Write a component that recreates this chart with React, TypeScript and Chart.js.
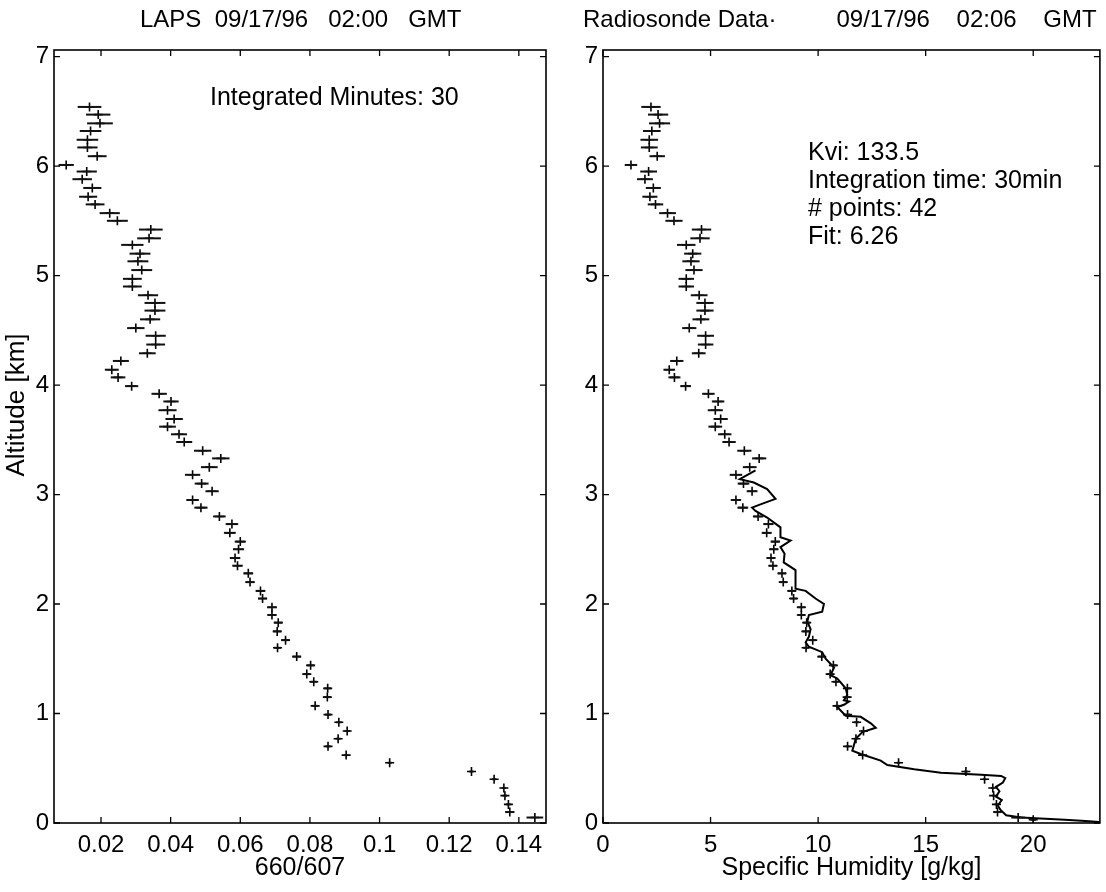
import React, { useEffect, useRef } from "react";
import { Chart, registerables } from "chart.js";

Chart.register(...registerables);

// ---------------- data ----------------
const altitudeKm = [
  6.54, 6.47, 6.39, 6.32, 6.24, 6.17, 6.09, 6.01, 5.95, 5.88,
  5.80, 5.72, 5.65, 5.57, 5.50, 5.42, 5.34, 5.28, 5.20, 5.13,
  5.05, 4.97, 4.90, 4.82, 4.75, 4.68, 4.60, 4.52, 4.45, 4.37,
  4.29, 4.22, 4.14, 4.07, 3.99, 3.92, 3.85, 3.77, 3.69, 3.62,
  3.55, 3.48, 3.40, 3.33, 3.25, 3.18, 3.10, 3.03, 2.95, 2.88,
  2.80, 2.73, 2.65, 2.57, 2.50, 2.42, 2.35, 2.28, 2.20, 2.12,
  2.05, 1.97, 1.90, 1.83, 1.75, 1.67, 1.60, 1.52, 1.44, 1.36,
  1.29, 1.23, 1.15, 1.07, 0.99, 0.92, 0.84, 0.77, 0.70, 0.62,
  0.55, 0.47, 0.40, 0.32, 0.25, 0.17, 0.10, 0.05, 0.03,
];

const lapsRatio = [
  0.0167, 0.0192, 0.0197, 0.0170, 0.0161, 0.0161, 0.0189, 0.0100, 0.0159, 0.0146,
  0.0175, 0.0163, 0.0183, 0.0225, 0.0247, 0.0343, 0.0338, 0.0290, 0.0312, 0.0306,
  0.0317, 0.0290, 0.0290, 0.0335, 0.0355, 0.0355, 0.0341, 0.0300, 0.0357, 0.0357,
  0.0333, 0.0257, 0.0231, 0.0249, 0.0288, 0.0367, 0.0401, 0.0391, 0.0410, 0.0391,
  0.0424, 0.0439, 0.0492, 0.0544, 0.0511, 0.0463, 0.0489, 0.0519, 0.0463, 0.0487,
  0.0540, 0.0576, 0.0570, 0.0600, 0.0595, 0.0585, 0.0592, 0.0623, 0.0628, 0.0658,
  0.0664, 0.0691, 0.0691, 0.0709, 0.0706, 0.0730, 0.0707, 0.0762, 0.0802, 0.0791,
  0.0811, 0.0851, 0.0850, 0.0815, 0.0852, 0.0883, 0.0907, 0.0881, 0.0852, 0.0904,
  0.1029, 0.1264, 0.1329, 0.1357, 0.1360, 0.1370, 0.1374, 0.1446, 0.1498,
];

const lapsErr = [
  0.0034, 0.0035, 0.0037, 0.0031, 0.0031, 0.0029, 0.0027, 0.0022, 0.0029, 0.0028,
  0.0026, 0.0026, 0.0027, 0.0029, 0.0030, 0.0034, 0.0034, 0.0032, 0.0030, 0.0030,
  0.0030, 0.0027, 0.0027, 0.0029, 0.0030, 0.0030, 0.0029, 0.0025, 0.0029, 0.0027,
  0.0024, 0.0023, 0.0020, 0.0021, 0.0019, 0.0022, 0.0022, 0.0026, 0.0025, 0.0024,
  0.0023, 0.0023, 0.0025, 0.0025, 0.0024, 0.0022, 0.0020, 0.0019, 0.0018, 0.0019,
  0.0018, 0.0018, 0.0017, 0.0016, 0.0016, 0.0015, 0.0015, 0.0014, 0.0013, 0.0014,
  0.0013, 0.0014, 0.0013, 0.0012, 0.0012, 0.0011, 0.0010, 0.0012, 0.0011, 0.0010,
  0.0010, 0.0010, 0.0010, 0.0008, 0.0008, 0.0008, 0.0008, 0.0007, 0.0007, 0.0006,
  0.0006, 0.0006, 0.0006, 0.0006, 0.0006, 0.0007, 0.0013, 0.0024, 0.0010,
];

const humidityGkg = [
  2.23, 2.56, 2.63, 2.27, 2.15, 2.15, 2.52, 1.30, 2.12, 1.95,
  2.34, 2.18, 2.44, 3.00, 3.30, 4.58, 4.51, 3.87, 4.17, 4.09,
  4.23, 3.87, 3.87, 4.47, 4.74, 4.74, 4.55, 4.01, 4.77, 4.77,
  4.45, 3.43, 3.08, 3.32, 3.84, 4.90, 5.35, 5.22, 5.47, 5.22,
  5.66, 5.86, 6.57, 7.26, 6.82, 6.18, 6.53, 6.93, 6.18, 6.50,
  7.21, 7.69, 7.61, 8.01, 7.94, 7.81, 7.90, 8.32, 8.38, 8.78,
  8.86, 9.22, 9.22, 9.47, 9.43, 9.75, 9.44, 10.17, 10.71, 10.56,
  10.83, 11.36, 11.35, 10.88, 11.37, 11.79, 12.11, 11.76, 11.37, 12.07,
  13.74, 16.87, 17.74, 18.12, 18.16, 18.29, 18.34, 19.30, 20.00,
];

const humidityErr = [
  0.45, 0.47, 0.49, 0.41, 0.41, 0.39, 0.36, 0.29, 0.39, 0.37,
  0.35, 0.35, 0.36, 0.39, 0.40, 0.45, 0.45, 0.43, 0.40, 0.40,
  0.40, 0.36, 0.36, 0.39, 0.40, 0.40, 0.39, 0.33, 0.39, 0.36,
  0.32, 0.31, 0.27, 0.28, 0.25, 0.29, 0.29, 0.35, 0.33, 0.32,
  0.31, 0.31, 0.33, 0.33, 0.32, 0.29, 0.27, 0.25, 0.24, 0.25,
  0.24, 0.24, 0.23, 0.21, 0.21, 0.20, 0.20, 0.19, 0.17, 0.19,
  0.17, 0.19, 0.17, 0.16, 0.16, 0.15, 0.13, 0.16, 0.15, 0.13,
  0.13, 0.13, 0.13, 0.11, 0.11, 0.11, 0.11, 0.09, 0.09, 0.08,
  0.08, 0.08, 0.08, 0.08, 0.08, 0.09, 0.17, 0.32, 0.13,
];

const sondeHumidity = [
  7.09, 6.36, 7.01, 7.63, 8.02, 7.32, 6.93, 7.09, 7.63, 8.25,
  8.25, 8.72, 8.25, 8.44, 8.40, 8.95, 8.95, 9.42, 9.88, 10.27,
  10.19, 9.57, 9.50, 9.65, 9.57, 9.42, 9.57, 10.19, 10.35, 10.74,
  10.58, 10.89, 11.28, 11.36, 11.20, 11.44, 11.20, 10.89, 11.28, 11.98,
  12.45, 12.68, 12.06, 11.75, 11.59, 11.98, 12.91, 13.22, 14.47, 15.71,
  17.58, 18.51, 18.70, 18.59, 18.27, 18.43, 18.27, 18.54, 18.35, 18.48,
  18.74, 19.44, 21.46, 22.24, 23.08,
];

const sondeAltitude = [
  3.22, 3.14, 3.11, 3.05, 2.96, 2.91, 2.88, 2.85, 2.79, 2.70,
  2.61, 2.58, 2.52, 2.46, 2.38, 2.31, 2.14, 2.12, 2.05, 2.00,
  1.93, 1.90, 1.84, 1.77, 1.70, 1.65, 1.61, 1.56, 1.50, 1.42,
  1.35, 1.32, 1.23, 1.17, 1.12, 1.11, 1.08, 1.06, 0.98, 0.97,
  0.91, 0.87, 0.83, 0.77, 0.66, 0.63, 0.57, 0.53, 0.49, 0.46,
  0.44, 0.43, 0.41, 0.37, 0.33, 0.29, 0.24, 0.21, 0.16, 0.12,
  0.07, 0.05, 0.03, 0.02, 0.01,
];

const altitudeTicks = [0, 1, 2, 3, 4, 5, 6, 7];
const ratioTicks = [0.02, 0.04, 0.06, 0.08, 0.1, 0.12, 0.14];
const humidityTicks = [0, 5, 10, 15, 20];

const leftTitle = "LAPS  09/17/96   02:00   GMT";
const rightTitle = "Radiosonde Data\u00B7         09/17/96    02:06    GMT";
const leftXLabel = "660/607";
const rightXLabel = "Specific Humidity [g/kg]";
const yLabel = "Altitude [km]";
const leftNotes = ["Integrated Minutes: 30"];
const rightNotes = ["Kvi: 133.5", "Integration time: 30min", "# points: 42", "Fit: 6.26"];

// ---------------- styling ----------------
const FONT_FAMILY = "'Liberation Sans', Arial, Helvetica, sans-serif";
const FS = 24;

const framePlugin = {
  id: "frame",
  afterDatasetsDraw(chart: any, _args: any, opts: any) {
    const { ctx, chartArea: a, scales } = chart;
    const xs = scales.x;
    const ys = scales.y;
    ctx.save();
    const errs: number[] = opts.errors || [];
    const ds = chart.data.datasets[0].data as any[];
    ctx.beginPath();
    ctx.rect(a.left, a.top, a.right - a.left, a.bottom - a.top);
    ctx.clip();
    ctx.strokeStyle = "#111";
    ctx.lineWidth = 2;
    ds.forEach((p, i) => {
      const e = errs[i] || 0;
      const y = ys.getPixelForValue(p.y);
      const x1 = xs.getPixelForValue(p.x - e);
      const x2 = xs.getPixelForValue(p.x + e);
      ctx.beginPath();
      ctx.moveTo(x1, y);
      ctx.lineTo(x2, y);
      ctx.stroke();
    });
    ctx.restore();
  },
  afterDraw(chart: any, _args: any, opts: any) {
    const { ctx, chartArea: a, scales } = chart;
    const xs = scales.x;
    const ys = scales.y;
    ctx.save();
    ctx.strokeStyle = "#000";
    ctx.lineWidth = 1.6;
    ctx.strokeRect(a.left, a.top, a.right - a.left, a.bottom - a.top);
    const L = 6;
    ctx.lineWidth = 1.3;
    ctx.beginPath();
    xs.ticks.forEach((t: any) => {
      const px = xs.getPixelForValue(t.value);
      ctx.moveTo(px, a.bottom);
      ctx.lineTo(px, a.bottom - L);
      ctx.moveTo(px, a.top);
      ctx.lineTo(px, a.top + L);
    });
    ys.ticks.forEach((t: any) => {
      const py = ys.getPixelForValue(t.value);
      ctx.moveTo(a.left, py);
      ctx.lineTo(a.left + L, py);
      ctx.moveTo(a.right, py);
      ctx.lineTo(a.right - L, py);
    });
    ctx.stroke();

    ctx.fillStyle = "#000";
    ctx.textBaseline = "middle";
    ctx.textAlign = "left";
    ctx.font = `${FS}px ${FONT_FAMILY}`;
    ctx.fillText(opts.title, opts.titleX, 20);
    ctx.font = `${opts.noteSize}px ${FONT_FAMILY}`;
    const notes: string[] = opts.notes || [];
    notes.forEach((s, i) => {
      ctx.fillText(s, opts.noteX, opts.noteY + i * opts.noteGap);
    });
    if (opts.yLabel) {
      ctx.save();
      ctx.font = `26px ${FONT_FAMILY}`;
      ctx.translate(opts.yLabelX, opts.yLabelY);
      ctx.rotate(-Math.PI / 2);
      ctx.textAlign = "center";
      ctx.fillText(opts.yLabel, 0, 0);
      ctx.restore();
    }
    ctx.restore();
  },
};

function makeConfig(p: {
  title: string;
  titleX: number;
  xTitle: string;
  xTicks: number[];
  xMin: number;
  xMax: number;
  xs: number[];
  errs: number[];
  yAxisWidth: number;
  padRight: number;
  notes: string[];
  noteX: number;
  noteY: number;
  noteGap: number;
  yLabel?: string;
  line?: { x: number[]; y: number[] };
}) {
  const font = { family: FONT_FAMILY, size: FS };
  const datasets: any[] = [
    {
      data: p.xs.map((x, i) => ({ x, y: altitudeKm[i] })),
      pointStyle: "cross",
      pointRadius: 4.5,
      borderColor: "#000",
      backgroundColor: "#000",
      borderWidth: 1.6,
      showLine: false,
    },
  ];
  if (p.line) {
    datasets.push({
      data: p.line.x.map((x, i) => ({ x, y: p.line!.y[i] })),
      showLine: true,
      pointRadius: 0,
      borderColor: "#000",
      borderWidth: 2,
      tension: 0,
    });
  }
  return {
    type: "scatter",
    data: { datasets },
    options: {
      animation: false,
      responsive: false,
      devicePixelRatio: 1,
      layout: { padding: { left: 0, right: p.padRight, top: 50, bottom: 0 } },
      plugins: {
        legend: { display: false },
        tooltip: { enabled: false },
        title: { display: false },
        frame: {
          title: p.title,
          titleX: p.titleX,
          errors: p.errs,
          notes: p.notes,
          noteSize: 25,
          noteX: p.noteX,
          noteY: p.noteY,
          noteGap: p.noteGap,
          yLabel: p.yLabel,
          yLabelX: 17,
          yLabelY: 405,
        },
      },
      scales: {
        x: {
          type: "linear",
          min: p.xMin,
          max: p.xMax,
          afterBuildTicks: (s: any) => {
            s.ticks = p.xTicks.map((v) => ({ value: v }));
          },
          afterFit: (s: any) => {
            s.height = 69;
          },
          ticks: {
            color: "#000",
            font,
            padding: 8,
            maxRotation: 0,
            autoSkip: false,
            callback: (v: any) => String(Number(Number(v).toFixed(2))),
          },
          grid: { display: false, drawTicks: false },
          border: { display: false },
          title: {
            display: true,
            text: p.xTitle,
            color: "#000",
            font: { family: FONT_FAMILY, size: 25 },
            padding: { top: 0, bottom: 9 },
          },
        },
        y: {
          type: "linear",
          min: 0,
          max: 7.06,
          afterBuildTicks: (s: any) => {
            s.ticks = altitudeTicks.map((v) => ({ value: v }));
          },
          afterFit: (s: any) => {
            s.width = p.yAxisWidth;
          },
          ticks: {
            color: "#000",
            font,
            padding: 5,
            autoSkip: false,
            callback: (v: any) => String(v),
          },
          grid: { display: false, drawTicks: false },
          border: { display: false },
        },
      },
    },
    plugins: [framePlugin],
  } as any;
}

function Panel(props: { left: number; width: number; config: any }) {
  const ref = useRef<HTMLCanvasElement | null>(null);
  useEffect(() => {
    if (!ref.current) return;
    const chart = new Chart(ref.current, props.config);
    return () => chart.destroy();
  }, []);
  return (
    <canvas
      ref={ref}
      width={props.width}
      height={892}
      style={{ position: "absolute", left: props.left, top: 0, width: props.width, height: 892 }}
    />
  );
}

export default function App() {
  const leftCfg = makeConfig({
    title: leftTitle,
    titleX: 140,
    xTitle: leftXLabel,
    xTicks: ratioTicks,
    xMin: 0.0065,
    xMax: 0.1478,
    xs: lapsRatio,
    errs: lapsErr,
    yAxisWidth: 54,
    padRight: 54,
    notes: leftNotes,
    noteX: 210,
    noteY: 98,
    noteGap: 28,
    yLabel: yLabel,
  });
  const rightCfg = makeConfig({
    title: rightTitle,
    titleX: 583 - 574,
    xTitle: rightXLabel,
    xTicks: humidityTicks,
    xMin: 0,
    xMax: 23.1,
    xs: humidityGkg,
    errs: humidityErr,
    yAxisWidth: 29,
    padRight: 6,
    notes: rightNotes,
    noteX: 808 - 574,
    noteY: 153,
    noteGap: 28,
    line: { x: sondeHumidity, y: sondeAltitude },
  });
  return (
    <div style={{ position: "absolute", left: 0, top: 0, width: 1106, height: 892, background: "#fff" }}>
      <Panel left={0} width={600} config={leftCfg} />
      <Panel left={574} width={532} config={rightCfg} />
    </div>
  );
}
